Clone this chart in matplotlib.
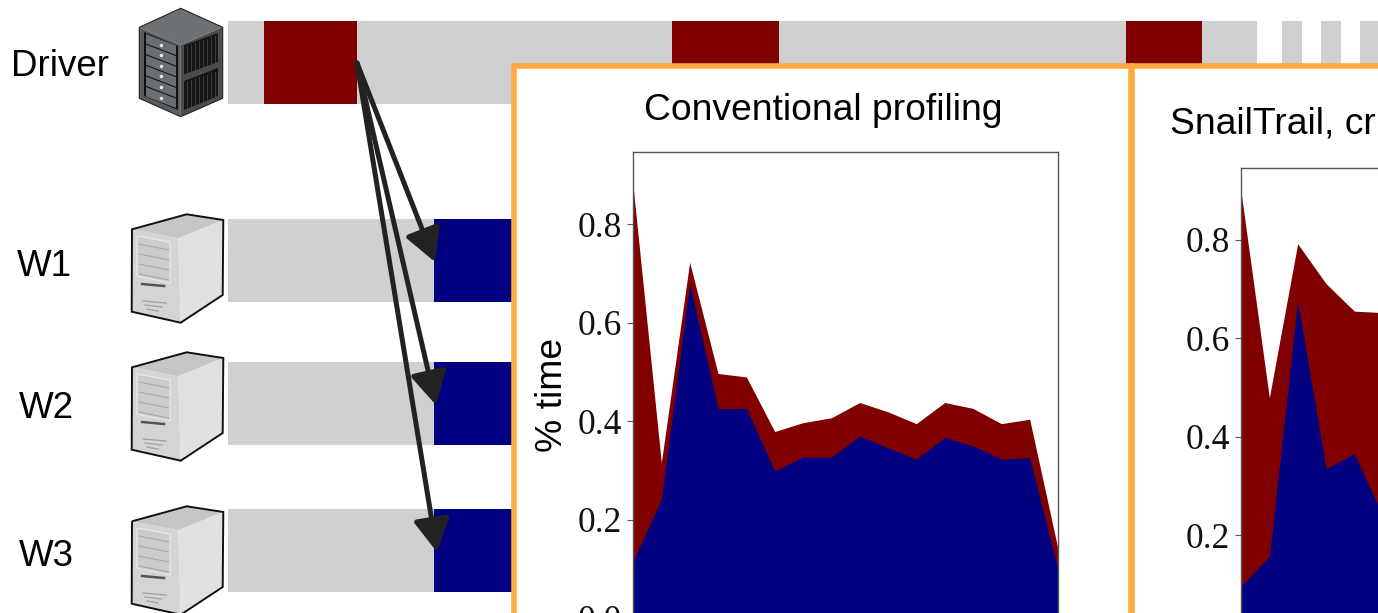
import matplotlib
matplotlib.use("Agg")
import matplotlib.pyplot as plt
from matplotlib.patches import Polygon, Rectangle, FancyArrowPatch

W, H = 1378, 613

# stacked area values
conv_total = [0.879, 0.316, 0.723, 0.497, 0.490, 0.379, 0.397, 0.407, 0.438, 0.419, 0.395, 0.438, 0.426, 0.395, 0.404, 0.140]
conv_work = [0.115, 0.241, 0.679, 0.426, 0.426, 0.299, 0.327, 0.327, 0.370, 0.346, 0.323, 0.367, 0.350, 0.323, 0.326, 0.098]
snail_total = [0.898, 0.479, 0.792, 0.711, 0.655, 0.652]
snail_work = [0.096, 0.156, 0.675, 0.335, 0.365, 0.240]
conv_ticks = [0.0, 0.2, 0.4, 0.6, 0.8]
conv_labels = ["0.0", "0.2", "0.4", "0.6", "0.8"]
snail_ticks = [0.2, 0.4, 0.6, 0.8]
snail_labels = ["0.2", "0.4", "0.6", "0.8"]

# timeline rows, in pixels of the slide
row_names = ["Driver", "W1", "W2", "W3"]
row_name_x = [11, 17, 19, 19]
row_name_y = [67, 267, 409, 556]
row_top = [21, 219, 362, 509]
row_height = 83
driver_gray = [(228, 1257), (1282, 1302), (1321, 1341), (1360, 1378)]
driver_red = [(264, 357), (672, 779), (1126, 1202)]
worker_gray = (228, 434)
worker_blue = (434, 514)
arrow_from = (357, 63)
arrow_to = [(435, 262), (436, 405), (437, 552)]

GRAY = "#cfd1d1"
RED = "#800000"
BLUE = "#000080"
ORANGE = "#ffa940"
SANS = "Liberation Sans"
SERIF = "Liberation Serif"

fig = plt.figure(figsize=(W / 100, H / 100), dpi=100)

bg = fig.add_axes([0, 0, 1, 1])
bg.set_xlim(0, W)
bg.set_ylim(H, 0)
bg.axis("off")


def poly(pts, fc, ec="none", lw=0, z=2, dx=0, dy=0):
    bg.add_patch(Polygon([(x + dx, y + dy) for x, y in pts], closed=True, facecolor=fc,
                         edgecolor=ec, linewidth=lw, zorder=z))


def draw_rack():
    poly([(180.7, 8.3), (139.3, 27.3), (180.7, 45), (222.7, 27.3)], "#6c7175")
    poly([(139.3, 27.3), (180.7, 45), (180.7, 116.7), (139.3, 98.3)], "#5a5d60")
    poly([(180.7, 45), (222.7, 27.3), (222.7, 98.3), (180.7, 116.7)], "#4a4c4e")
    poly([(144, 32), (178, 46), (178, 110), (144, 96)], "#111111", z=3)
    for i in range(6):
        t = 34 + i * 10.6
        poly([(146, t), (176, t + 11.5), (176, t + 21), (146, t + 9.5)], "#6b6e70", z=4)
        bg.plot([161], [t + 10.5], "o", ms=1.5, color="#e8e8e8", zorder=5)
    poly([(184, 45.5), (218, 33), (218, 62), (184, 74.5)], "#151515", z=3)
    poly([(184, 81), (218, 68), (218, 96), (184, 110)], "#151515", z=3)
    # vent stripes on the side panels
    for i in range(8):
        x = 187 + i * 4
        slope = -12.5 / 34 * (x - 184)
        bg.plot([x, x], [47 + slope, 73 + slope], color="#3c3c3c", lw=0.7, zorder=4)
        bg.plot([x, x], [83 + slope, 109 + slope], color="#3c3c3c", lw=0.7, zorder=4)
    poly([(180.7, 8.3), (139.3, 27.3), (139.3, 98.3), (180.7, 116.7), (222.7, 98.3), (222.7, 27.3)],
         "none", ec="#222222", lw=0.8, z=6)


def draw_tower(dy):
    poly([(132, 229.3), (186.7, 214.3), (223.3, 220), (178.3, 238.3)], "#c6c6c6", dy=dy)
    poly([(132, 229.3), (178.3, 238.3), (180.7, 322.7), (131.7, 311.7)], "#d4d4d4", dy=dy)
    poly([(178.3, 238.3), (223.3, 220), (222.7, 295), (180.7, 322.7)], "#e0e0e0", dy=dy)
    poly([(137, 236), (170, 242), (170, 283), (137, 276)], "#cccccc", ec="#e6e6e6", lw=1, z=3, dy=dy)
    for i in range(4):
        t = 244 + i * 10
        bg.plot([139, 169], [t + dy, t + 6 + dy], color="#a0a0a0", lw=0.6, zorder=4)
    bg.plot([142, 164], [284 + dy, 286 + dy], color="#555555", lw=1.8, zorder=4)
    for i in range(3):
        bg.plot([143 + i * 2, 166 - i * 4], [301 + i * 4 + dy, 303 + i * 4 + dy],
                color="#a0a0a0", lw=0.9, zorder=4)
    poly([(132, 229.3), (186.7, 214.3), (223.3, 220), (222.7, 295), (180.7, 322.7), (131.7, 311.7)],
         "none", ec="#111111", lw=1.4, z=6, dy=dy)


draw_rack()
for dy in [0, 138, 292]:
    draw_tower(dy)

# timeline bars
for start, end in driver_gray:
    bg.barh(row_top[0], end - start, row_height, left=start, align="edge", color=GRAY, zorder=1)
for start, end in driver_red:
    bg.barh(row_top[0], end - start, row_height, left=start, align="edge", color=RED, zorder=1.5)
for top in row_top[1:]:
    bg.barh(top, worker_gray[1] - worker_gray[0], row_height, left=worker_gray[0], align="edge", color=GRAY, zorder=1)
    bg.barh(top, worker_blue[1] - worker_blue[0], row_height, left=worker_blue[0], align="edge", color=BLUE, zorder=1.5)

for name, x, y in zip(row_names, row_name_x, row_name_y):
    bg.text(x, y, name, fontsize=26.5, family=SANS, ha="left", va="center", color="black")

for tip in arrow_to:
    bg.add_patch(FancyArrowPatch(arrow_from, tip, arrowstyle="-|>,head_length=1,head_width=0.55",
                                 mutation_scale=20, shrinkA=0, shrinkB=0, color="#222222",
                                 linewidth=3.6, zorder=7))

# orange framed panels
bg.add_patch(Rectangle((514, 65.5), 617, 600, facecolor="white", edgecolor=ORANGE, linewidth=4, zorder=8))
bg.add_patch(Rectangle((1131.5, 65.5), 400, 600, facecolor="white", edgecolor=ORANGE, linewidth=4, zorder=8))
bg.text(823, 111, "Conventional profiling", fontsize=26.8, family=SANS, ha="center", va="center", zorder=9)
bg.text(1170, 124, "SnailTrail, cr", fontsize=26.8, family=SANS, ha="left", va="center", zorder=9)
bg.text(553, 395, "% time", fontsize=26.8, family=SANS, rotation=90, ha="center", va="center", zorder=9)


def area_panel(left, right, top, bottom, total, work, ticks, labels):
    ax = fig.add_axes([left / W, 1 - bottom / H, (right - left) / W, (bottom - top) / H])
    ax.set_zorder(5)
    xs = list(range(len(total)))
    ax.fill_between(xs, 0, total, color=RED, linewidth=0)
    ax.fill_between(xs, 0, work, color=BLUE, linewidth=0)
    ax.set_xlim(0, 15)
    ax.set_ylim(0, (bottom - top) / 492)
    ax.set_yticks(ticks)
    ax.set_yticklabels(labels, fontsize=25.5, family=SERIF, color="#111111")
    ax.set_xticks([])
    ax.tick_params(axis="y", length=4, width=0.8, color="#555555", pad=4)
    for s in ax.spines.values():
        s.set_color("#555555")
        s.set_linewidth(1)
    return ax


area_panel(633, 1058, 152, 618, conv_total, conv_work, conv_ticks, conv_labels)
area_panel(1241, 1666, 168, 633.4, snail_total, snail_work, snail_ticks, snail_labels)

fig.savefig("out.png", dpi=100)
